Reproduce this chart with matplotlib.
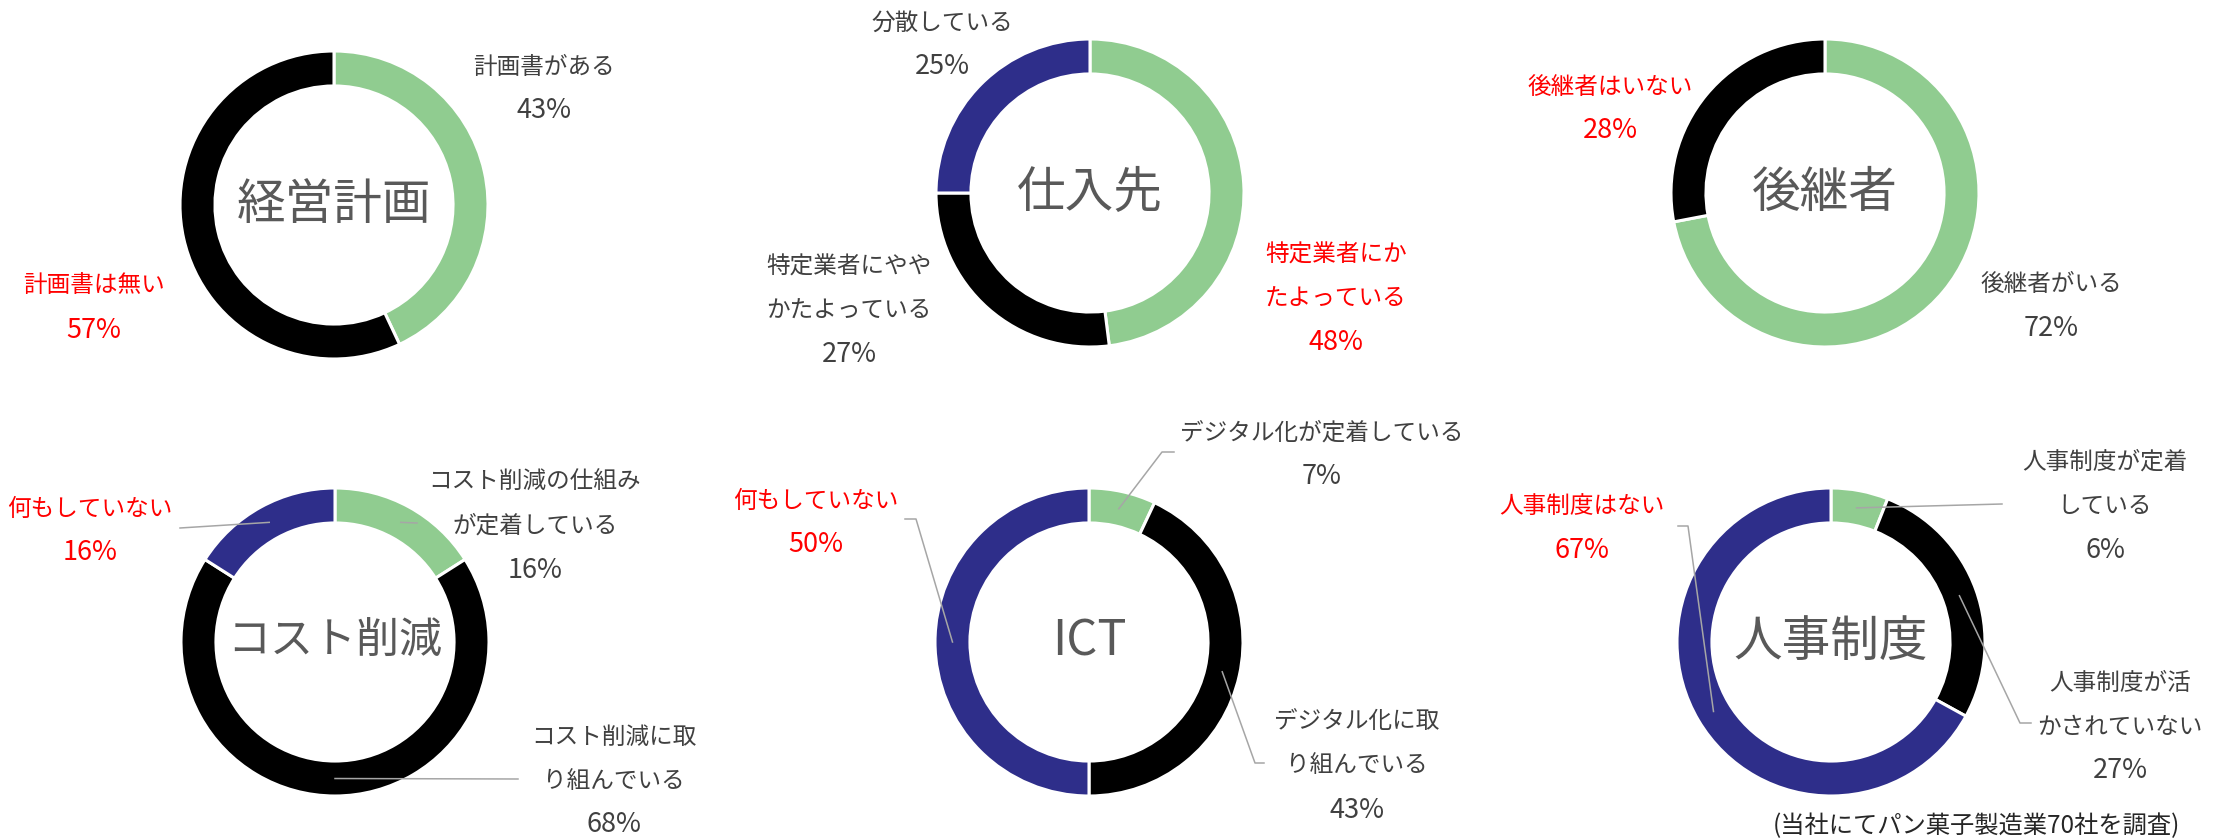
import matplotlib
matplotlib.use('Agg')
import matplotlib.pyplot as plt
import numpy as np

plt.rcParams['font.family'] = ['Noto Sans CJK JP', 'DejaVu Sans']

# ---- data ----
titles = ['経営計画', '仕入先', '後継者', 'コスト削減', 'ICT', '人事制度']

keiei_vals = [43, 57]
shiire_vals = [48, 27, 25]
koukei_vals = [72, 28]
cost_vals = [16, 68, 16]
ict_vals = [7, 43, 50]
jinji_vals = [6, 27, 67]

keiei_labels = ['計画書がある', '計画書は無い']
shiire_labels = ['特定業者にか\nたよっている', '特定業者にやや\nかたよっている', '分散している']
koukei_labels = ['後継者がいる', '後継者はいない']
cost_labels = ['コスト削減の仕組み\nが定着している', 'コスト削減に取\nり組んでいる', '何もしていない']
ict_labels = ['デジタル化が定着している', 'デジタル化に取\nり組んでいる', '何もしていない']
jinji_labels = ['人事制度が定着\nしている', '人事制度が活\nかされていない', '人事制度はない']

# index of the label written in red
red_idx = [1, 0, 1, 2, 2, 2]

note = '(当社にてパン菓子製造業70社を調査)'

# ---- layout (pixels, y measured from top) ----
W, H = 2223, 840
R = 154
ring = 0.227
colors = ['#90CC90', '#000000', '#2E2E8A']
gray_txt = '#404040'
line_h = 44

centers = [(334, 205), (1090, 193), (1825, 193),
           (335, 642), (1089, 642), (1831, 642)]
title_size = [35, 35, 35, 31, 35, 35]

# label block centres per slice
label_pos = [
    [(544, 89), (94, 308)],
    [(1336, 299), (849, 311), (942, 45)],
    [(2051, 306), (1610, 109)],
    [(535, 526), (614, 781), (90, 531)],
    [(1322, 455), (1357, 766), (816, 523)],
    [(2105, 506), (2120, 727), (1582, 528)],
]

# leader start points (near label) per slice, None = no leader
leaders = [
    [None, None],
    [None, None, None],
    [None, None],
    [[(417, 523)], [(518, 779)], [(180, 528)]],
    [[(1174, 452), (1162, 452)], [(1264, 763), (1255, 763)], [(905, 519), (916, 519)]],
    [[(2002, 504)], [(2031, 723), (2020, 723)], [(1678, 526), (1688, 526)]],
]

all_vals = [keiei_vals, shiire_vals, koukei_vals, cost_vals, ict_vals, jinji_vals]
all_labels = [keiei_labels, shiire_labels, koukei_labels, cost_labels, ict_labels, jinji_labels]

fig = plt.figure(figsize=(W / 100, H / 100), dpi=100)
ax = fig.add_axes([0, 0, 1, 1])
ax.set_xlim(0, W)
ax.set_ylim(0, H)
ax.set_aspect('equal')
ax.axis('off')


def fy(y):
    return H - y


for k in range(6):
    vals = all_vals[k]
    cx, cy = centers[k]
    ax.pie(vals, colors=colors[:len(vals)], startangle=90, counterclock=False,
           center=(cx, fy(cy)), radius=R, frame=True,
           wedgeprops=dict(width=R * ring, edgecolor='white', linewidth=2.2))
    ax.text(cx, fy(cy), titles[k], ha='center', va='center',
            fontsize=title_size[k], color='#595959')

    tot = sum(vals)
    cum = 0
    for i, v in enumerate(vals):
        mid = (cum + v / 2) / tot * 2 * np.pi
        cum += v
        col = 'red' if i == red_idx[k] else gray_txt
        lines = all_labels[k][i].split('\n') + ['%d%%' % v]
        lx, ly = label_pos[k][i]
        n = len(lines)
        for j, s in enumerate(lines):
            fs = 19.5 if j == n - 1 else 17
            ax.text(lx, fy(ly + (j - (n - 1) / 2) * line_h), s, ha='center', va='center',
                    fontsize=fs, color=col)
        if leaders[k][i] is not None:
            rm = R * (1 - ring / 2)
            px = cx + rm * np.sin(mid)
            py = cy - rm * np.cos(mid)
            pts = leaders[k][i] + [(px, py)]
            ax.plot([p[0] for p in pts], [fy(p[1]) for p in pts], color='#A6A6A6', lw=1.1)

ax.set_xlim(0, W)
ax.set_ylim(0, H)
ax.text(1976, fy(826), note, ha='center', va='center', fontsize=17.5, color='#262626')

fig.savefig('out.png', dpi=100)
